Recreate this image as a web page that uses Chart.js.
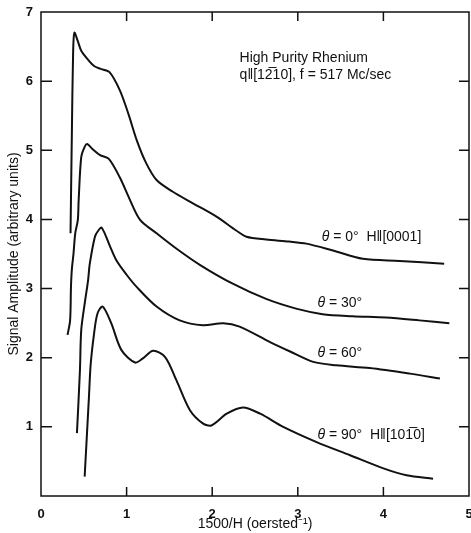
<!DOCTYPE html>
<html>
<head>
<meta charset="utf-8">
<script src="https://cdn.jsdelivr.net/npm/chart.js@4/dist/chart.umd.min.js"></script>
<style>
  html, body { margin: 0; padding: 0; background: #fff; }
  #wrap { width: 471px; height: 533px; }
</style>
</head>
<body>
<div id="wrap"><canvas id="chart" width="471" height="533"></canvas></div>
<script>
// Signal amplitude vs 1500/H
const x0 = [0.345, 0.36, 0.375, 0.39, 0.43, 0.47, 0.55, 0.62, 0.69, 0.80, 0.92, 1.02, 1.12, 1.23, 1.35, 1.54, 1.78, 2.05, 2.28, 2.40, 2.63, 2.90, 3.10, 3.41, 3.76, 4.19, 4.71];
const y0 = [3.80, 5.20, 6.40, 6.70, 6.58, 6.44, 6.31, 6.22, 6.18, 6.13, 5.87, 5.53, 5.14, 4.81, 4.57, 4.40, 4.23, 4.04, 3.84, 3.75, 3.71, 3.68, 3.65, 3.55, 3.43, 3.40, 3.36];

const x30 = [0.31, 0.34, 0.35, 0.36, 0.38, 0.40, 0.43, 0.44, 0.47, 0.51, 0.54, 0.60, 0.69, 0.79, 0.92, 1.04, 1.16, 1.35, 1.58, 1.86, 2.24, 2.63, 2.98, 3.29, 3.64, 4.03, 4.42, 4.77];
const y30 = [2.33, 2.54, 3.02, 3.27, 3.51, 3.80, 3.99, 4.28, 4.90, 5.05, 5.09, 5.02, 4.93, 4.88, 4.61, 4.28, 3.99, 3.80, 3.58, 3.34, 3.07, 2.85, 2.71, 2.63, 2.60, 2.58, 2.54, 2.50];

const x60 = [0.42, 0.455, 0.47, 0.51, 0.55, 0.57, 0.63, 0.67, 0.71, 0.81, 0.88, 1.00, 1.12, 1.35, 1.62, 1.89, 2.13, 2.32, 2.67, 2.91, 3.18, 3.45, 3.84, 4.31, 4.66];
const y60 = [0.91, 1.82, 2.40, 2.78, 3.12, 3.36, 3.75, 3.84, 3.88, 3.60, 3.41, 3.20, 3.02, 2.74, 2.54, 2.47, 2.50, 2.45, 2.23, 2.09, 1.94, 1.89, 1.85, 1.77, 1.70];

const x90 = [0.51, 0.56, 0.58, 0.62, 0.66, 0.72, 0.82, 0.94, 1.10, 1.19, 1.31, 1.45, 1.58, 1.74, 1.89, 1.99, 2.17, 2.36, 2.56, 2.83, 3.22, 3.61, 4.00, 4.27, 4.58];
const y90 = [0.28, 1.43, 1.90, 2.35, 2.64, 2.74, 2.50, 2.11, 1.93, 1.99, 2.10, 2.01, 1.68, 1.24, 1.05, 1.02, 1.19, 1.28, 1.19, 1.00, 0.78, 0.59, 0.40, 0.30, 0.25];

const xTicks = [0, 1, 2, 3, 4, 5];
const yTicks = [0, 1, 2, 3, 4, 5, 6, 7];

const FONT = "'Liberation Sans', Arial, sans-serif";
const INK = '#111';

function pts(xs, ys) {
  return xs.map((v, i) => ({ x: v, y: ys[i] }));
}

function curve(xs, ys) {
  return {
    data: pts(xs, ys),
    borderColor: INK,
    borderWidth: 2,
    pointRadius: 0,
    fill: false,
    tension: 0.3
  };
}

// frame with inward ticks on all four sides
const frameTicks = {
  id: 'frameTicks',
  afterDraw(chart) {
    const { ctx, chartArea: a, scales: { x, y } } = chart;
    ctx.save();
    ctx.strokeStyle = INK;
    ctx.lineWidth = 1.5;
    ctx.strokeRect(a.left, a.top, a.right - a.left, a.bottom - a.top);
    ctx.beginPath();
    xTicks.slice(1, -1).forEach(v => {
      const px = x.getPixelForValue(v);
      ctx.moveTo(px, a.bottom); ctx.lineTo(px, a.bottom - 9);
      ctx.moveTo(px, a.top); ctx.lineTo(px, a.top + 9);
    });
    yTicks.slice(1, -1).forEach(v => {
      const py = y.getPixelForValue(v);
      ctx.moveTo(a.left, py); ctx.lineTo(a.left + 11, py);
      ctx.moveTo(a.right, py); ctx.lineTo(a.right - 10, py);
    });
    ctx.stroke();
    ctx.restore();
  }
};

// text notes placed in data units
const notes = [
  { x: 2.32, y: 6.33, parts: [['High Purity Rhenium', false]] },
  { x: 2.32, y: 6.08, parts: [['q\u2016[12\u030510], f = 517 Mc/sec', false]] },
  { x: 3.28, y: 3.74, parts: [['\u03b8', true], [' = 0\u00b0  H\u2016[0001]', false]] },
  { x: 3.23, y: 2.79, parts: [['\u03b8', true], [' = 30\u00b0', false]] },
  { x: 3.23, y: 2.07, parts: [['\u03b8', true], [' = 60\u00b0', false]] },
  { x: 3.23, y: 0.88, parts: [['\u03b8', true], [' = 90\u00b0  H\u2016[101\u03050]', false]] }
];

const textNotes = {
  id: 'textNotes',
  afterDraw(chart) {
    const { ctx, scales: { x, y } } = chart;
    ctx.save();
    ctx.fillStyle = INK;
    ctx.textBaseline = 'middle';
    notes.forEach(n => {
      let px = x.getPixelForValue(n.x);
      const py = y.getPixelForValue(n.y);
      n.parts.forEach(([t, it]) => {
        ctx.font = (it ? 'italic ' : '') + '14px ' + FONT;
        ctx.fillText(t, px, py);
        px += ctx.measureText(t).width;
      });
    });
    ctx.restore();
  }
};

new Chart(document.getElementById('chart'), {
  type: 'line',
  data: {
    datasets: [curve(x0, y0), curve(x30, y30), curve(x60, y60), curve(x90, y90)]
  },
  options: {
    responsive: false,
    animation: false,
    layout: { padding: { top: 12, right: 2, left: 0, bottom: 0 } },
    plugins: { legend: { display: false }, tooltip: { enabled: false } },
    scales: {
      x: {
        type: 'linear',
        min: 0,
        max: 5,
        grid: { display: false },
        border: { display: false },
        ticks: {
          stepSize: 1,
          color: INK,
          padding: 3,
          maxRotation: 0,
          font: { family: FONT, size: 13, weight: 'bold' }
        },
        title: {
          display: true,
          text: '1500/H (oersted\u207b\u00b9)',
          color: INK,
          padding: { top: 1, bottom: 0 },
          font: { family: FONT, size: 14 }
        },
        afterFit(scale) {
          scale.height = 37;
          scale.paddingLeft = 0;
          scale.paddingRight = 0;
        }
      },
      y: {
        type: 'linear',
        min: 0,
        max: 7,
        grid: { display: false },
        border: { display: false },
        ticks: {
          stepSize: 1,
          color: INK,
          padding: 0,
          font: { family: FONT, size: 13, weight: 'bold' },
          callback: v => (v === 0 ? '' : v)
        },
        title: {
          display: true,
          text: 'Signal Amplitude (arbitrary units)',
          color: INK,
          padding: { top: 6, bottom: 0 },
          font: { family: FONT, size: 14 }
        },
        afterFit(scale) {
          scale.width = 41;
        }
      }
    }
  },
  plugins: [frameTicks, textNotes]
});
</script>
</body>
</html>
